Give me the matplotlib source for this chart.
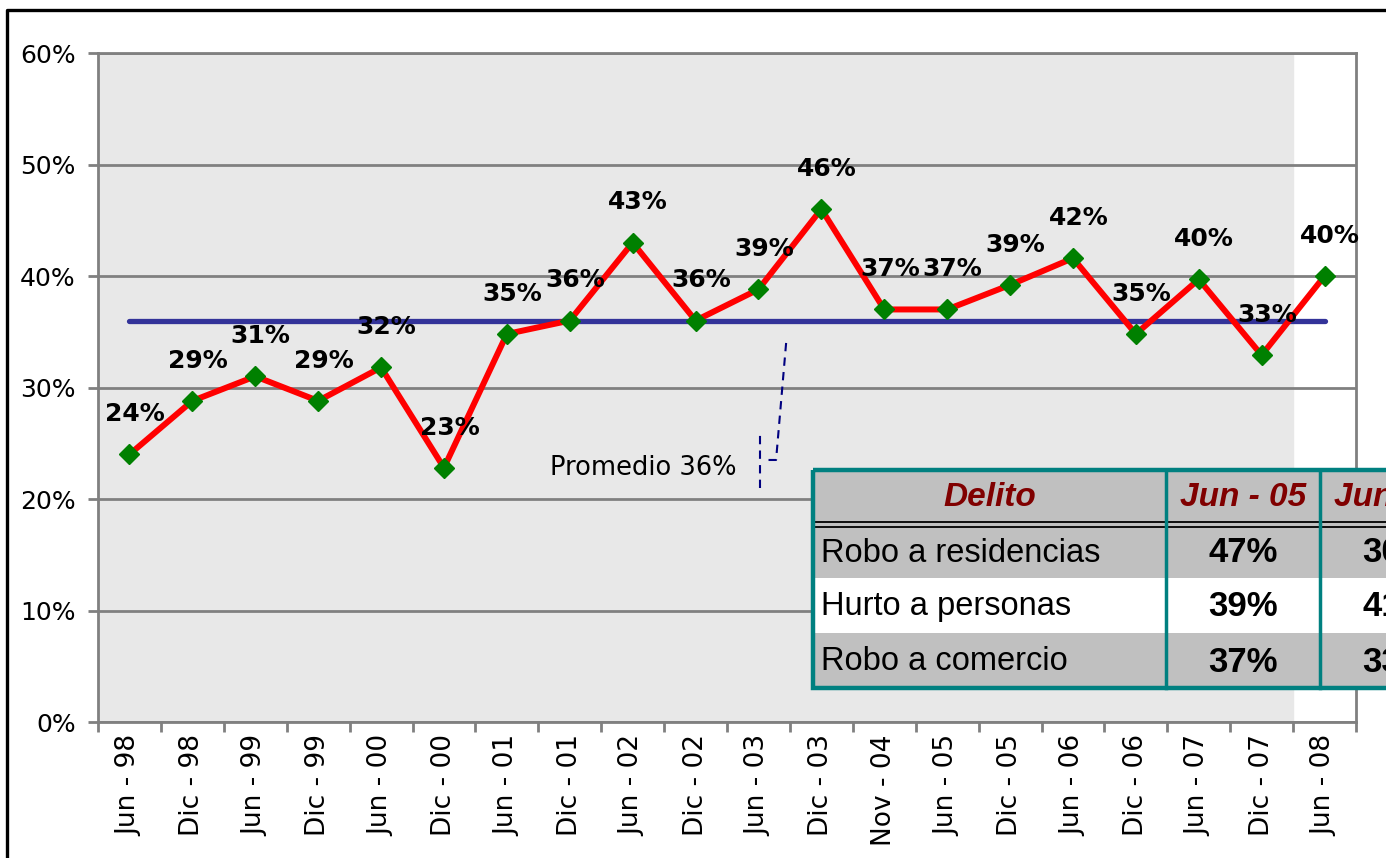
#!/usr/bin/env python3
# -*- coding: utf-8 -*-
import numpy as np
import matplotlib
matplotlib.use("Agg")
import matplotlib.pyplot as plt
from matplotlib.patches import Rectangle
from matplotlib.ticker import FixedLocator, PercentFormatter

plt.rcParams['font.family'] = ['DejaVu Sans']
TABLE_FONT = ['Liberation Sans', 'DejaVu Sans']

# periods and victimization share
periods = ['Jun - 98', 'Dic - 98', 'Jun - 99', 'Dic - 99', 'Jun - 00', 'Dic - 00',
           'Jun - 01', 'Dic - 01', 'Jun - 02', 'Dic - 02', 'Jun - 03', 'Dic - 03',
           'Nov - 04', 'Jun - 05', 'Dic - 05', 'Jun - 06', 'Dic - 06', 'Jun - 07',
           'Dic - 07', 'Jun - 08']
values = [0.240, 0.288, 0.310, 0.288, 0.318, 0.228, 0.348, 0.360, 0.430, 0.360,
          0.388, 0.460, 0.370, 0.370, 0.392, 0.416, 0.348, 0.397, 0.329, 0.400]
promedio = 0.36
y_ticks = [0.0, 0.1, 0.2, 0.3, 0.4, 0.5, 0.6]

# inset table
tabla_cols = ['Delito', 'Jun - 05', 'Jun - 08']
tabla_delitos = ['Robo a residencias', 'Hurto a personas', 'Robo a comercio']
tabla_jun05 = ['47%', '39%', '37%']
tabla_jun08 = ['30%', '41%', '33%']

W, H = 1386, 858
fig = plt.figure(figsize=(W / 100, H / 100), dpi=100)
ax = fig.add_axes([98 / W, 1 - 722 / H, 1258 / W, 669 / H])

x = np.arange(len(periods))
grey = '#808080'

# background: shaded up to Dic-07, white for the last period
ax.set_facecolor('white')
ax.axvspan(-0.5, len(periods) - 1.5, color='#E8E8E8', zorder=0)

ax.set_xlim(-0.5, len(periods) - 0.5)
ax.set_ylim(0, 0.6)
ax.yaxis.set_major_locator(FixedLocator(y_ticks))
ax.yaxis.set_major_formatter(PercentFormatter(1.0, decimals=0))
ax.grid(axis='y', color=grey, linewidth=2, zorder=1)
ax.set_axisbelow(False)

# x: ticks on boundaries, labels on centres
ax.set_xticks(np.arange(-0.5, len(periods), 1.0))
ax.set_xticklabels([])
ax.set_xticks(x, minor=True)
ax.set_xticklabels(periods, minor=True, rotation=90, fontsize=19)
ax.tick_params(axis='x', which='minor', length=0, pad=9)
ax.tick_params(axis='x', which='major', length=7, width=2, color=grey)
ax.tick_params(axis='y', length=7, width=2, color=grey, labelsize=18, pad=9)
for s in ax.spines.values():
	s.set_color(grey)
	s.set_linewidth(2)

# average line and series
ax.plot([x[0], x[-1]], [promedio, promedio], color='#333399', linewidth=3.8,
        solid_capstyle='round', zorder=3)
ax.plot(x, values, color='red', linewidth=4.3, zorder=4)
ax.plot(x, values, linestyle='none', marker='D', markersize=10.5,
        color='#008000', zorder=5)

for xi, v in zip(x, values):
	ax.annotate('{:.0f}%'.format(v * 100), (xi, v), xytext=(4, 29),
	            textcoords='offset points', ha='center', va='center',
	            fontsize=18, fontweight='bold', zorder=6)

# "Promedio" callout
ax.text(8.17, 0.228, 'Promedio 36%', fontsize=18.5, ha='center', va='center', zorder=6)
ax.plot([10.03, 10.03], [0.21, 0.262], color='#000080', linewidth=1.5,
        linestyle=(0, (4, 3)), zorder=6)
ax.plot([10.16, 10.28, 10.44], [0.235, 0.235, 0.34], color='#000080', linewidth=1.5,
        linestyle=(0, (4, 3)), zorder=6)

# overlay in pixel coordinates for the table and frame
ov = fig.add_axes([0, 0, 1, 1], zorder=10)
ov.set_xlim(0, W)
ov.set_ylim(H, 0)
ov.axis('off')
ov.patch.set_alpha(0)

# figure frame (left and top edges visible)
ov.plot([7, 7, W + 10], [H + 10, 10, 10], color='black', linewidth=2.4)

teal = '#008080'
tx0, tx1, tx2, tx3 = 813, 1166, 1320, 1474
row_edges = [470, 524, 578, 633, 688]
fills = ['#C0C0C0', '#C0C0C0', 'white', '#C0C0C0']
for i, fc in enumerate(fills):
	ov.add_patch(Rectangle((tx0, row_edges[i]), 800, row_edges[i + 1] - row_edges[i],
	                       facecolor=fc, edgecolor='none', zorder=1))
ov.plot([tx0, 1600], [522, 522], color='black', linewidth=1.3, zorder=2)
ov.plot([tx0, 1600], [526.5, 526.5], color='black', linewidth=1.3, zorder=2)
ov.add_patch(Rectangle((tx0, 470), 800, 218, facecolor='none', edgecolor=teal,
                       linewidth=3.2, zorder=3))
for cx in (tx1, tx2):
	ov.plot([cx, cx], [470, 688], color=teal, linewidth=2.5, zorder=3)

col_centres = [(tx0 + tx1) / 2, (tx1 + tx2) / 2, (tx2 + tx3) / 2]
for cx, name in zip(col_centres, tabla_cols):
	ov.text(cx, 498, name, ha='center', va='center', fontsize=24,
	        fontweight='bold', fontstyle='italic', color='#800000',
	        family=TABLE_FONT, zorder=4)
row_centres = [553, 607, 662]
for ry, d, a, b in zip(row_centres, tabla_delitos, tabla_jun05, tabla_jun08):
	ov.text(tx0 + 8, ry, d, ha='left', va='center', fontsize=23.5,
	        family=TABLE_FONT, zorder=4)
	ov.text(col_centres[1], ry, a, ha='center', va='center', fontsize=25,
	        fontweight='bold', family=TABLE_FONT, zorder=4)
	ov.text(col_centres[2], ry, b, ha='center', va='center', fontsize=25,
	        fontweight='bold', family=TABLE_FONT, zorder=4)

plt.savefig('out.png', dpi=100)
plt.close(fig)
